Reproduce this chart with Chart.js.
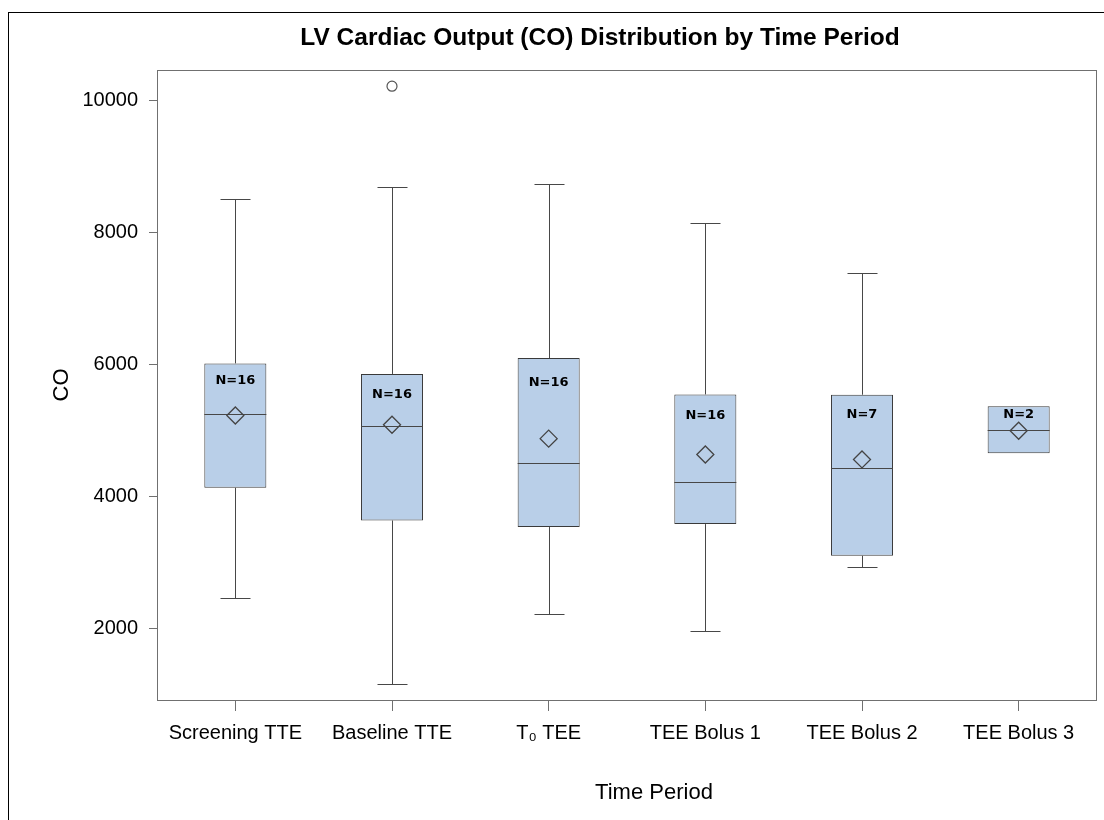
<!DOCTYPE html>
<html>
<head>
<meta charset="utf-8">
<script src="https://cdn.jsdelivr.net/npm/chart.js@4.4.1/dist/chart.umd.min.js"></script>
<style>
  html, body { margin: 0; padding: 0; background: #fff; overflow: hidden; }
  #wrap { position: relative; width: 1104px; height: 820px; overflow: hidden; }
  #wrap canvas { position: absolute; left: 0; top: 0; }
  #frame { position: absolute; left: 8px; top: 12px; width: 1200px; height: 900px;
           border-left: 1px solid #000; border-top: 1px solid #000; pointer-events: none; }
</style>
</head>
<body>
<div id="wrap">
  <canvas id="coChart" width="1200" height="820"></canvas>
  <div id="frame"></div>
</div>
<script>
// box plot values per time period
const periods = ['Screening TTE', 'Baseline TTE', 'T\u2080 TEE', 'TEE Bolus 1', 'TEE Bolus 2', 'TEE Bolus 3'];
const whiskerLow  = [2450, 1150, 2215, 1955, 2930, 4650];
const q1          = [4125, 3630, 3530, 3575, 3095, 4650];
const median      = [5240, 5060, 4505, 4215, 4425, 4995];
const q3          = [6010, 5850, 6090, 5540, 5535, 5360];
const whiskerHigh = [8500, 8680, 8735, 8135, 7385, 5360];
const means       = [5220, 5080, 4870, 4630, 4555, 4990];
const outliers    = [null, 10210, null, null, null, null];
const nCounts     = [16, 16, 16, 16, 7, 2];
const nLabelAt    = [5750, 5530, 5717, 5217, 5238, 5238];
const yTicks      = [2000, 4000, 6000, 8000, 10000];

const FONT = "'Liberation Sans', Arial, sans-serif";
const lineGray = '#474747';

// whiskers, caps and median lines, drawn right after the boxes
const boxParts = {
    id: 'boxParts',
    afterDatasetDraw(chart, args) {
        if (args.index !== 0) return;
        const ctx = chart.ctx;
        const y = chart.scales.y;
        const meta = chart.getDatasetMeta(0);
        ctx.save();
        ctx.strokeStyle = lineGray;
        ctx.lineWidth = 1;
        meta.data.forEach((bar, i) => {
            const x = Math.round(bar.x) + 0.5;
            const half = bar.width / 2;
            const capHalf = 15;
            const yLo = Math.round(y.getPixelForValue(whiskerLow[i])) + 0.5;
            const yHi = Math.round(y.getPixelForValue(whiskerHigh[i])) + 0.5;
            const yQ1 = y.getPixelForValue(q1[i]);
            const yQ3 = y.getPixelForValue(q3[i]);
            const yMed = Math.round(y.getPixelForValue(median[i])) + 0.5;
            ctx.beginPath();
            if (whiskerHigh[i] > q3[i]) {
                ctx.moveTo(x, yQ3); ctx.lineTo(x, yHi);
                ctx.moveTo(x - capHalf, yHi); ctx.lineTo(x + capHalf, yHi);
            }
            if (whiskerLow[i] < q1[i]) {
                ctx.moveTo(x, yQ1); ctx.lineTo(x, yLo);
                ctx.moveTo(x - capHalf, yLo); ctx.lineTo(x + capHalf, yLo);
            }
            ctx.moveTo(bar.x - half, yMed); ctx.lineTo(bar.x + half, yMed);
            ctx.stroke();
        });
        ctx.restore();
    },
    afterDatasetsDraw(chart) {
        const ctx = chart.ctx;
        const y = chart.scales.y;
        const meta = chart.getDatasetMeta(0);
        ctx.save();
        ctx.fillStyle = '#000';
        ctx.font = "bold 13px 'DejaVu Sans', Verdana, sans-serif";
        ctx.textAlign = 'center';
        ctx.textBaseline = 'middle';
        meta.data.forEach((bar, i) => {
            ctx.fillText('N=' + nCounts[i], bar.x, y.getPixelForValue(nLabelAt[i]));
        });
        ctx.restore();
    },
    afterDraw(chart) {
        const ctx = chart.ctx;
        const a = chart.chartArea;
        ctx.save();
        // plot frame
        ctx.strokeStyle = '#707070';
        ctx.lineWidth = 1;
        ctx.strokeRect(Math.round(a.left) + 0.5, Math.round(a.top) + 0.5,
                       Math.round(a.right - a.left) - 1, Math.round(a.bottom - a.top));
        // x axis title
        ctx.fillStyle = '#000';
        ctx.font = '22px ' + FONT;
        ctx.textAlign = 'center';
        ctx.textBaseline = 'middle';
        ctx.fillText('Time Period', (a.left + a.right) / 2 + 27, 793);
        ctx.restore();
    }
};

new Chart(document.getElementById('coChart'), {
    data: {
        labels: periods,
        datasets: [{
            type: 'bar',
            data: periods.map((_, i) => [q1[i], q3[i]]),
            backgroundColor: '#b9cfe8',
            borderColor: '#3a3a3a',
            borderWidth: 1,
            borderSkipped: false,
            barPercentage: 0.396,
            categoryPercentage: 1,
            order: 2
        }, {
            type: 'line',
            data: means,
            showLine: false,
            pointStyle: 'rectRot',
            pointRadius: 8.5,
            pointBorderWidth: 1.3,
            pointBorderColor: '#444',
            pointBackgroundColor: 'rgba(0,0,0,0)',
            order: 0
        }, {
            type: 'line',
            data: outliers,
            showLine: false,
            pointStyle: 'circle',
            pointRadius: 5,
            pointBorderWidth: 1.2,
            pointBorderColor: '#555',
            pointBackgroundColor: 'rgba(0,0,0,0)',
            order: 1
        }]
    },
    options: {
        responsive: false,
        animation: false,
        layout: { padding: 0 },
        plugins: {
            legend: { display: false },
            tooltip: { enabled: false },
            title: {
                display: true,
                text: 'LV Cardiac Output (CO) Distribution by Time Period',
                color: '#000',
                font: { family: FONT, size: 24.5, weight: 'bold' },
                padding: { top: 24, bottom: 16.6 }
            }
        },
        scales: {
            x: {
                offset: true,
                grid: { display: true, offset: false, drawOnChartArea: false, drawTicks: true, tickLength: 11, color: '#707070' },
                border: { display: false },
                ticks: { color: '#000', font: { family: FONT, size: 20 }, padding: 10, maxRotation: 0, autoSkip: false },
                afterFit: s => { s.height = 120; }
            },
            y: {
                min: 910,
                max: 10455,
                afterBuildTicks: s => { s.ticks = yTicks.map(v => ({ value: v })); },
                grid: { display: true, drawOnChartArea: false, drawTicks: true, tickLength: 8, color: '#707070' },
                border: { display: false },
                ticks: { color: '#000', font: { family: FONT, size: 20 }, padding: 11, callback: v => String(v) },
                title: { display: true, text: 'CO', color: '#000', font: { family: FONT, size: 22 }, padding: { top: 49, bottom: 0 } },
                afterFit: s => { s.width = 157; }
            },
            // empty right-hand space (graph continues past the cropped edge)
            yR: {
                position: 'right',
                display: true,
                grid: { display: false },
                border: { display: false },
                ticks: { display: false },
                afterFit: s => { s.width = 103; }
            }
        }
    },
    plugins: [boxParts]
});
</script>
</body>
</html>
